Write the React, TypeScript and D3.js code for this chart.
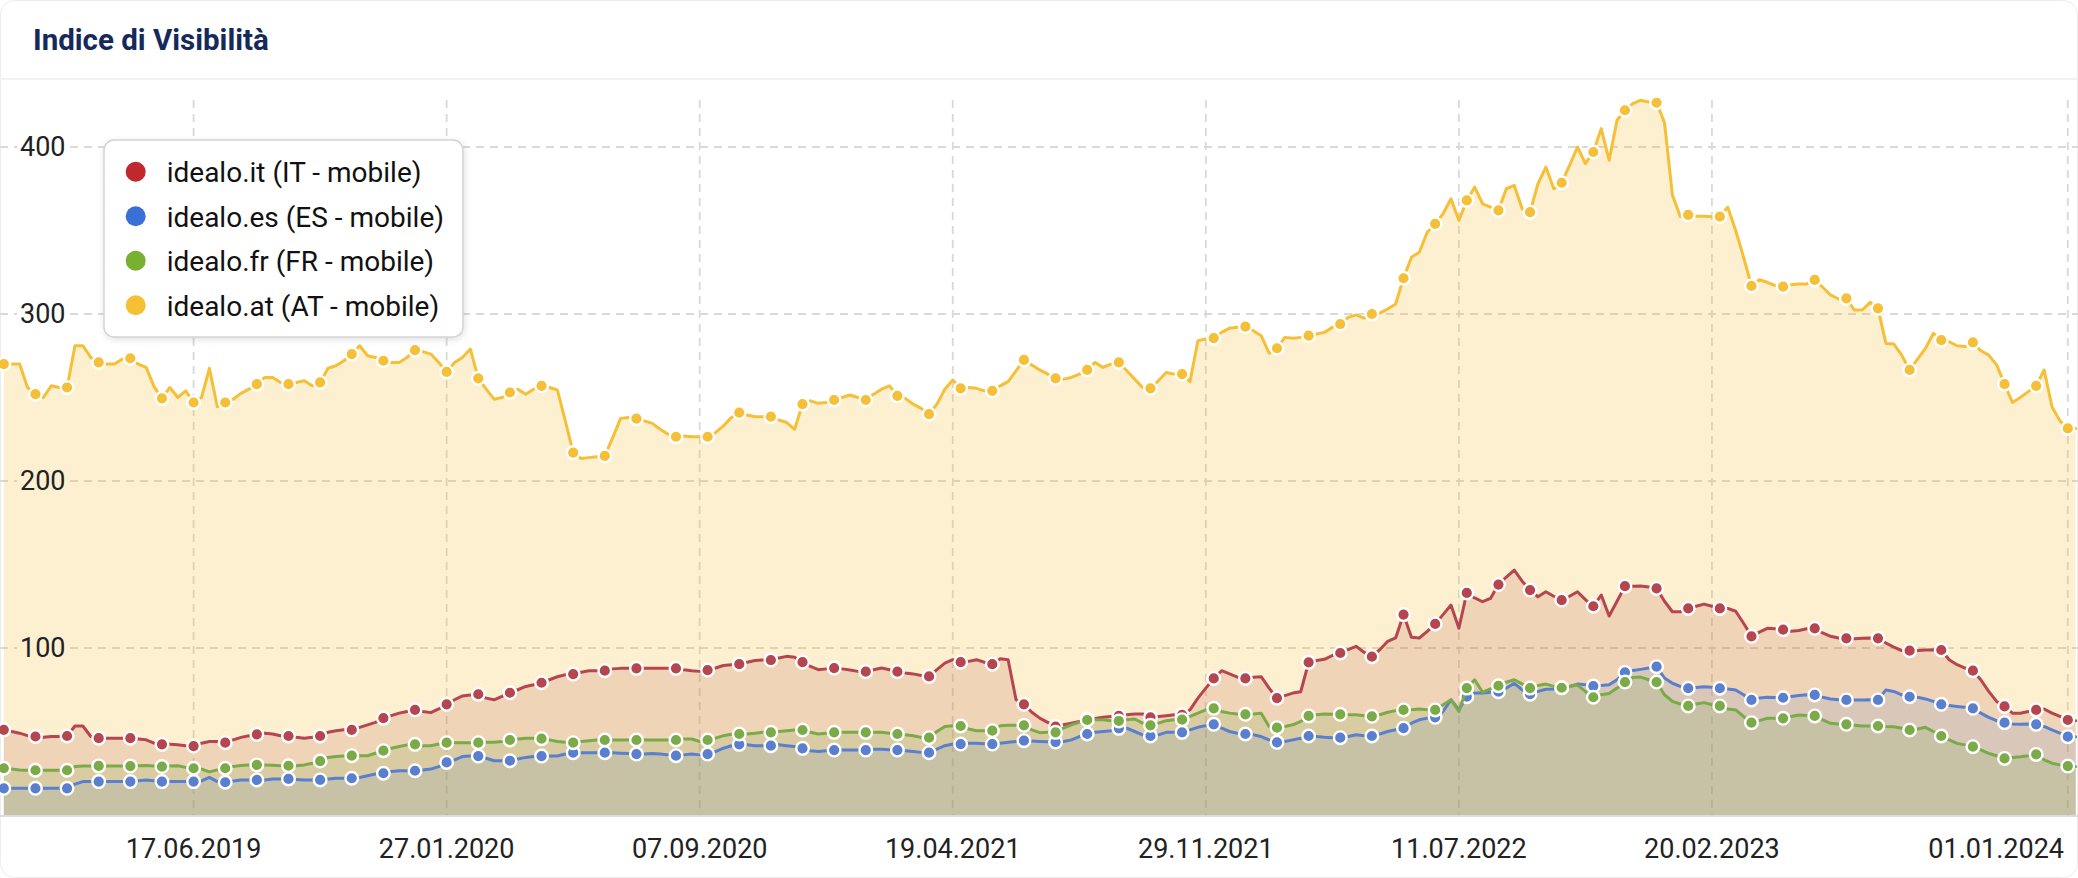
import React from 'react';
import * as d3 from 'd3';

// Weekly values, starting Monday 31.12.2018
const START_DATE = '31.12.2018';

const IT = [
  51, 50, 49, 47.5, 47, 46.5, 47, 47, 47.3, 53.3,
  53.3, 47, 46, 46, 46, 46, 46, 45.5, 45, 43,
  42.3, 42.3, 42, 41.5, 41.3, 43, 44, 44, 43.3, 45,
  46.5, 47.5, 48.3, 49, 48.5, 47.5, 47.3, 46.5, 46, 46.5,
  47.3, 49.5, 50.5, 51, 51, 52.5, 54, 55.5, 58, 59.5,
  61, 62, 63, 62, 61.3, 63.5, 66.3, 69, 71.3, 71.8,
  72.3, 70, 69, 71, 73.2, 75, 77, 78, 79.2, 81,
  82.8, 84, 84.4, 85.5, 86.4, 86.4, 86.4, 87.5, 87.8, 87.8,
  87.8, 87.8, 87.8, 87.8, 87.8, 87.8, 87, 86.4, 86, 86.8,
  88, 89.5, 90, 90.3, 91.5, 92.5, 92.8, 92.8, 94, 95,
  94.5, 91.5, 89, 87, 87.5, 88, 87.5, 86.8, 86, 85.8,
  87, 88, 87, 85.8, 85, 84.5, 83.5, 83, 87, 91,
  93, 91.5, 92, 93, 91.5, 90.3, 93.5, 93, 69, 66.3,
  61.5, 58, 55.5, 53, 54, 55, 56, 57.5, 57.8, 58.5,
  59, 59.3, 60, 60.5, 60.5, 58.5, 59, 59.5, 60, 60,
  63, 70, 76, 81.8, 86.4, 84.5, 82.5, 81.8, 82.5, 82.8,
  76, 70, 71.5, 73, 73.8, 91.4, 92.5, 93.2, 95.5, 97,
  99, 101, 97.5, 94.8, 99, 104, 106, 120, 106.5, 106,
  110, 114.4, 120, 125.7, 111.8, 133, 130, 127.7, 129.7, 138,
  142.5, 146.7, 140, 134.7, 130.7, 133.7, 131, 128.7, 131, 133.7,
  129, 125, 131.7, 119.2, 128, 137, 137, 137.1, 136.5, 135.7,
  128, 121.7, 121.7, 123.7, 125, 126.3, 125, 123.7, 123.7, 122,
  114.8, 107, 109.5, 111.8, 111.5, 111, 110, 110.5, 111.5, 111.8,
  109, 107, 106, 105.8, 105.5, 105.8, 106, 105.8, 103, 100.5,
  98.5, 98.4, 98.5, 98.8, 99, 98.8, 93, 90, 88, 86.4,
  81, 74, 68, 65, 61, 60.9, 62, 62.9, 63.5, 61,
  59, 56.9, 56.5,
];

const ES = [
  16, 16, 16, 16, 16, 16, 16, 16, 16, 18.5,
  20, 20, 20, 20, 20, 20, 20, 20.5, 21, 20.5,
  20, 20, 20, 20, 20, 20.5, 22.5, 20, 19.6, 20.3,
  21, 21, 21, 21, 21.5, 21.6, 21.6, 21.3, 21, 21,
  21, 21.5, 22, 22, 22, 22.5, 23.5, 24.5, 25, 26,
  26.5, 26.5, 26.5, 27, 27.5, 29, 31.5, 33, 35, 35.3,
  35.3, 34, 32.5, 32.5, 32.5, 33.5, 34.5, 35, 35.3, 35.3,
  35.3, 36.5, 37.3, 37.3, 37.3, 37.3, 37.3, 37.3, 37, 36.8,
  36.5, 36.5, 36.8, 36.5, 36, 35.5, 36, 36.5, 36, 36.5,
  38, 40, 41.5, 42.3, 42, 41.5, 41.5, 41.5, 42, 41.5,
  41, 39.9, 38.5, 38, 38.5, 38.9, 38.9, 38.9, 38.9, 38.9,
  39.3, 39.3, 39, 38.9, 38.5, 38, 37.5, 37.3, 39.5, 41.5,
  42.5, 42.5, 43, 43, 42.7, 42.5, 43, 43.5, 44, 44.5,
  44.3, 44, 43.8, 43.7, 44, 45, 47, 48.5, 49.5, 50,
  50.5, 51.9, 52, 50, 48, 47.3, 48, 49.5, 49.5, 49.5,
  51, 52.5, 53.5, 54.3, 52, 50, 49, 48.5, 48, 47,
  45, 43.5, 44, 45, 46, 47.3, 47, 46.5, 46.3, 46.3,
  47, 48, 47.5, 47.3, 48.5, 50, 51, 52, 55, 57,
  58, 58.5, 62, 69, 63, 70.8, 73, 73, 73.5, 73.8,
  76, 78.8, 75, 72.3, 74, 75.3, 75.5, 76.2, 77, 78.4,
  78, 77.2, 77.5, 78, 81, 85.4, 86.5, 87.2, 88, 88.8,
  82, 78.9, 77, 75.9, 76.3, 76.8, 76.5, 75.9, 75.5, 74.9,
  72, 68.9, 70, 70.5, 70.3, 70.2, 71, 71.5, 72, 71.9,
  70.5, 69.5, 69, 68.9, 68.9, 68.9, 69, 68.9, 74.9, 74,
  72, 70.8, 70.5, 69.5, 68, 66.3, 65.5, 65, 64.5, 63.9,
  61, 58.5, 56.5, 55.3, 54.5, 54.3, 54.5, 54.3, 53, 51,
  49, 46.9, 46.9,
];

const FR = [
  28, 27.5, 27, 26.8, 26.8, 26.8, 26.8, 26.8, 26.8, 29,
  29.3, 29.4, 29.4, 29.4, 29.4, 29.4, 29.3, 29.5, 29.7, 29.3,
  29, 29.3, 29.5, 28.5, 28, 27.5, 25.8, 27, 28, 29,
  29.7, 30, 30, 30, 29.8, 29.5, 29.5, 29.5, 30, 31,
  32.3, 34.5, 35, 35.3, 35.5, 35.5, 35.5, 37, 38.5, 40,
  41, 42, 42.3, 41.5, 41.5, 42.5, 43.3, 43.3, 43.3, 43.3,
  43.3, 43.5, 43.5, 44, 44.9, 45.5, 46, 46, 45.7, 45,
  44, 43.5, 43.3, 44, 44.5, 44.9, 44.9, 44.9, 44.9, 44.9,
  44.9, 44.9, 44.9, 44.9, 44.9, 44.9, 45.5, 45.5, 44, 44.9,
  46, 47.5, 48.3, 48.5, 48.5, 49, 49.5, 49.5, 50, 50.5,
  50.9, 50.9, 49.5, 48.5, 49, 49.5, 49.5, 49.5, 49.5, 49.5,
  49.5, 49.5, 49, 48.5, 48, 47.5, 46.5, 46.3, 50, 53,
  53.5, 53.3, 51.5, 50.5, 50.5, 50.5, 53.5, 53.7, 53.7, 53.7,
  51, 49.3, 49.5, 49.5, 52, 54, 55.5, 56.9, 57, 57,
  56.5, 56.3, 57, 57.5, 55, 53.7, 55, 56.5, 57, 57.1,
  59, 61, 63, 63.9, 62, 61, 60.5, 60.3, 60.5, 60.9,
  53, 52.3, 53, 54, 56, 59.3, 60, 60.5, 60.3, 60.3,
  60, 60, 59.5, 59.1, 60, 61.5, 62.5, 62.9, 63, 63.5,
  63, 62.9, 66, 69, 62, 76, 81, 73.5, 75.5, 77.4,
  79.5, 81, 78.5, 76, 77.5, 78.4, 77, 76.2, 77, 77.8,
  74, 70.5, 72, 72.8, 76, 79.6, 82.4, 82.6, 81, 79.6,
  72, 68, 66.5, 65.3, 66.5, 67.3, 66, 65.3, 63.5, 62.9,
  59, 55.3, 56.5, 57.9, 57.9, 57.9, 59, 59.9, 59.6, 59.3,
  57, 54.9, 54.5, 54.3, 53.8, 53.3, 53.3, 53.3, 53, 52.9,
  52, 50.9, 51.5, 52.5, 50, 47.3, 45, 42.9, 42, 40.9,
  39, 36.9, 35.5, 33.9, 34.5, 34.9, 35.5, 36.3, 33, 31,
  30, 29.3, 29,
];

const AT = [
  270, 270, 270, 256, 252, 250, 257, 256, 256, 281,
  281, 274, 271, 270, 270, 273, 273.5, 270, 268, 256.5,
  249.5, 256, 250, 254, 247, 250, 267.5, 244.5, 247, 249,
  252.5, 255, 258, 262, 262, 259, 258, 259, 260, 257,
  259, 267.5, 269, 272, 276, 281, 275, 274, 272, 271,
  271, 274, 278.4, 277.5, 276, 271, 265.3, 271, 274, 279,
  261.5, 255, 249, 250, 253, 255, 252, 255, 257, 256,
  254.5, 236, 217, 213.5, 214, 214.5, 215, 226, 237.5, 238,
  237.3, 236, 234.5, 231, 228, 226.5, 227, 226.5, 226.5, 226.5,
  229, 233, 238, 241, 239.5, 238.5, 238.5, 238.5, 236.5, 235,
  231, 246, 248, 246.5, 247, 248.5, 250, 251.5, 250, 248.5,
  252, 255, 257, 251, 249.5, 246, 243.5, 240, 246, 255,
  260.5, 255.5, 256, 255.5, 254, 254, 257, 259.5, 266, 272.5,
  269.5, 266.5, 264, 261.5, 261, 262, 264, 266.5, 271, 268,
  270, 271, 266, 261, 256, 255.5, 260, 265, 264, 264,
  259.5, 284, 285, 285.5, 289, 291.5, 292, 292.5, 290, 287,
  276.5, 279.5, 286, 285.5, 286, 287, 288, 289, 292, 294,
  298, 299.5, 297.5, 300, 300.5, 303, 306, 321.4, 334, 337,
  349, 354, 360, 369, 356, 368, 376, 366, 364, 362,
  375, 377, 363, 361, 378, 388, 375, 378.6, 389, 400,
  390, 397, 411, 392, 416, 422, 426, 428, 427, 426.5,
  414.6, 371.3, 358.3, 359.3, 358.5, 358.5, 358.3, 358.3, 364, 350,
  334, 316.8, 320.5, 319, 317, 316.4, 317.5, 318, 318, 320.4,
  316, 311.4, 309, 309.4, 302.4, 302.4, 307, 303.4, 282.4, 282,
  275.4, 266.5, 273, 279.4, 288.4, 284.4, 283.4, 281, 280.5, 283,
  278, 275.4, 269.5, 258, 247, 250, 253.5, 257, 266.5, 244.5,
  236, 231.5, 231.5,
];

const SERIES_NAMES = [
  'idealo.it (IT - mobile)',
  'idealo.es (ES - mobile)',
  'idealo.fr (FR - mobile)',
  'idealo.at (AT - mobile)',
];
const LINE_COLORS = ['#b5464f', '#5a7fcf', '#7aab48', '#f5c037'];
const FILL_COLORS = ['#b8584a', '#5a7fcf', '#7aab48', '#f5c037'];
const LEGEND_COLORS = ['#c0282d', '#3a6fd6', '#7ab030', '#f5c033'];
const FILL_OPACITY = [0.19, 0.15, 0.19, 0.23];

const X_TICKS = [
  '17.06.2019', '27.01.2020', '07.09.2020', '19.04.2021',
  '29.11.2021', '11.07.2022', '20.02.2023', '01.01.2024',
];
const Y_TICKS = [100, 200, 300, 400];

const TITLE = 'Indice di Visibilità';

export default function App() {
  const W = 2078;
  const H = 878;
  const plotTop = 100;
  const plotBottom = 815;
  const parse = d3.timeParse('%d.%m.%Y');
  const start = parse(START_DATE) as Date;
  const dates = AT.map((_, i) => d3.timeDay.offset(start, 7 * i));

  const x = d3
    .scaleTime()
    .domain([dates[0], parse('01.01.2024') as Date])
    .range([3.8, 2067.8]);
  const y = d3
    .scaleLinear()
    .domain([0, (plotBottom - plotTop) / 1.67])
    .range([plotBottom, plotTop]);

  const seriesData = [IT, ES, FR, AT];
  const areaGen = d3
    .area<number>()
    .x((_, i) => x(dates[i]))
    .y0(y(0))
    .y1((d) => y(d));
  const lineGen = d3
    .line<number>()
    .x((_, i) => x(dates[i]))
    .y((d) => y(d));

  const isMarker = (i: number) => (i <= 80 ? i % 4 === 0 : i >= 85 && (i - 85) % 4 === 0);

  const areaOrder = [3, 0, 1, 2];
  const lineOrder = [0, 1, 2, 3];

  const font = 'Roboto, "Noto Sans", Arial, sans-serif';

  return (
    <div style={{ width: W, height: H }}>
      <style>{`html,body{margin:0;padding:0;background:#fff;overflow:hidden}`}</style>
      <svg width={W} height={H} style={{ display: 'block', fontFamily: font }}>
        <defs>
          <filter id="legendShadow" x="-10%" y="-10%" width="130%" height="130%">
            <feDropShadow dx="1" dy="2" stdDeviation="3" floodColor="#000" floodOpacity="0.12" />
          </filter>
        </defs>
        <rect x={0.5} y={0.5} width={W - 1} height={H - 1} rx={14} fill="#fff" stroke="#ececec" />
        <text x={33} y={50} fontSize={29.5} fontWeight={700} fill="#15295a">
          {TITLE}
        </text>
        <line x1={0} x2={W} y1={79} y2={79} stroke="#f1f1f1" strokeWidth={2} />

        {/* horizontal gridlines */}
        {Y_TICKS.map((t) => (
          <g key={'gy' + t}>
            <line x1={0} x2={17} y1={y(t)} y2={y(t)} stroke="#d9d9d9" strokeWidth={1.8} strokeDasharray="8,6" />
            <line x1={70} x2={W} y1={y(t)} y2={y(t)} stroke="#d9d9d9" strokeWidth={1.8} strokeDasharray="8,6" />
          </g>
        ))}
        {/* vertical gridlines */}
        {X_TICKS.map((t) => {
          const xx = x(parse(t) as Date);
          return (
            <line key={'gx' + t} x1={xx} x2={xx} y1={plotTop} y2={plotBottom} stroke="#d9d9d9" strokeWidth={1.8} strokeDasharray="8,6" />
          );
        })}

        {/* areas */}
        {areaOrder.map((s) => (
          <path key={'a' + s} d={areaGen(seriesData[s]) as string} fill={FILL_COLORS[s]} fillOpacity={FILL_OPACITY[s]} stroke="none" />
        ))}

        {/* lines & markers */}
        {lineOrder.map((s) => (
          <g key={'l' + s}>
            <path d={lineGen(seriesData[s]) as string} fill="none" stroke={LINE_COLORS[s]} strokeWidth={3} strokeLinejoin="round" strokeLinecap="round" />
            {seriesData[s].map((v, i) =>
              isMarker(i) ? (
                <circle key={i} cx={x(dates[i])} cy={y(v)} r={6.3} fill={LINE_COLORS[s]} stroke="#fff" strokeWidth={2.4} />
              ) : null
            )}
          </g>
        ))}

        {/* x axis line */}
        <line x1={0} x2={W} y1={plotBottom + 1} y2={plotBottom + 1} stroke="#dcdcdc" strokeWidth={2} />

        {/* y labels */}
        {Y_TICKS.map((t) => (
          <text key={'yl' + t} x={20} y={y(t) + 9} fontSize={27} fill="#222">
            {t}
          </text>
        ))}

        {/* x labels */}
        {X_TICKS.map((t) => {
          const xx = x(parse(t) as Date);
          const nearEdge = xx > W - 80;
          return (
            <text key={'xl' + t} x={nearEdge ? 2064 : xx} y={858} fontSize={27} fill="#222" textAnchor={nearEdge ? 'end' : 'middle'}>
              {t}
            </text>
          );
        })}

        {/* legend */}
        <g>
          <rect x={104} y={140} width={359} height={197} rx={10} fill="#fff" stroke="#d3d3d3" strokeWidth={1.5} filter="url(#legendShadow)" />
          {SERIES_NAMES.map((name, i) => (
            <g key={'lg' + i} transform={`translate(0, ${171.7 + i * 44.5})`}>
              <circle cx={135.7} cy={0} r={10} fill={LEGEND_COLORS[i]} />
              <text x={166.7} y={10.5} fontSize={28} fill="#111">
                {name}
              </text>
            </g>
          ))}
        </g>
      </svg>
    </div>
  );
}
